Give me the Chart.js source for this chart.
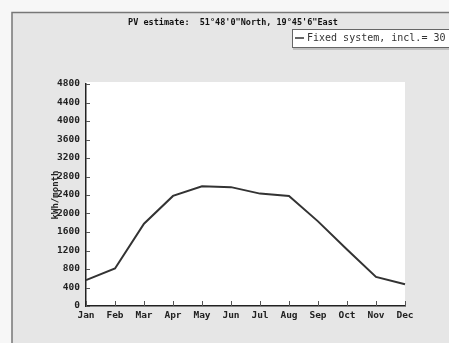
<!DOCTYPE html>
<html>
<head>
<meta charset="utf-8">
<script src="https://cdn.jsdelivr.net/npm/chart.js@4.4.0/dist/chart.umd.min.js"></script>
<style>
html,body{margin:0;padding:0;background:#fff;overflow:hidden;}
canvas{display:block;}
</style>
</head>
<body>
<canvas id="c" width="449" height="343"></canvas>
<script>
const months = ['Jan','Feb','Mar','Apr','May','Jun','Jul','Aug','Sep','Oct','Nov','Dec'];
const energy = [560, 810, 1780, 2380, 2590, 2570, 2430, 2380, 1830, 1220, 630, 470];
const yTicks = [0,400,800,1200,1600,2000,2400,2800,3200,3600,4000,4400,4800];
const titleText = 'PV estimate:  51°48\'0"North, 19°45\'6"East';
const legendText = 'Fixed system, incl.= 30';
const yTitle = 'kWh/month';

const frame = {
  id: 'frame',
  beforeDraw(chart) {
    const ctx = chart.ctx, W = chart.width, H = chart.height, a = chart.chartArea;
    ctx.save();
    ctx.fillStyle = '#f7f7f7';
    ctx.fillRect(0, 0, W, H);
    ctx.fillStyle = '#e6e6e6';
    ctx.fillRect(12, 12, W - 12, H - 12);
    ctx.strokeStyle = '#777';
    ctx.lineWidth = 1.5;
    ctx.beginPath();
    ctx.moveTo(12, H); ctx.lineTo(12, 12.5); ctx.lineTo(W, 12.5);
    ctx.stroke();
    ctx.fillStyle = '#ffffff';
    ctx.fillRect(a.left, a.top - 2, a.right - a.left, a.bottom - a.top + 2);
    // title
    ctx.fillStyle = '#111';
    ctx.font = 'bold 8.5px "DejaVu Sans Mono"';
    ctx.textAlign = 'center';
    ctx.textBaseline = 'middle';
    ctx.fillText(titleText, 233, 23);
    // legend box
    ctx.fillStyle = '#ffffff';
    ctx.fillRect(292, 29, 170, 18);
    ctx.strokeStyle = '#666';
    ctx.lineWidth = 1;
    ctx.strokeRect(292.5, 29.5, 170, 18);
    ctx.strokeStyle = '#999';
    ctx.beginPath(); ctx.moveTo(293, 49); ctx.lineTo(W, 49); ctx.stroke();
    ctx.strokeStyle = '#333';
    ctx.lineWidth = 1.5;
    ctx.beginPath(); ctx.moveTo(295, 38); ctx.lineTo(304, 38); ctx.stroke();
    ctx.fillStyle = '#333';
    ctx.font = '10px "DejaVu Sans Mono"';
    ctx.textAlign = 'left';
    ctx.fillText(legendText, 307, 38.5);
    ctx.restore();
  },
  afterDraw(chart) {
    const ctx = chart.ctx, a = chart.chartArea;
    const xs = chart.scales.x, ys = chart.scales.y;
    ctx.save();
    ctx.strokeStyle = '#555';
    ctx.lineWidth = 1;
    ctx.beginPath();
    xs.ticks.forEach((t, i) => {
      const x = Math.round(xs.getPixelForTick(i)) + 0.5;
      ctx.moveTo(x, a.bottom); ctx.lineTo(x, a.bottom - 5);
    });
    ys.ticks.forEach((t, i) => {
      const y = Math.round(ys.getPixelForTick(i)) + 0.5;
      ctx.moveTo(a.left, y); ctx.lineTo(a.left + 4, y);
    });
    ctx.stroke();
    ctx.restore();
  }
};

new Chart(document.getElementById('c'), {
  type: 'line',
  data: {
    labels: months,
    datasets: [{
      label: legendText,
      data: energy,
      borderColor: '#333',
      borderWidth: 2,
      pointRadius: 0,
      tension: 0,
      fill: false
    }]
  },
  options: {
    responsive: false,
    animation: false,
    devicePixelRatio: 1,
    layout: { padding: { left: 0, top: 84, right: 44, bottom: 0 } },
    plugins: { legend: { display: false }, title: { display: false }, tooltip: { enabled: false } },
    scales: {
      x: {
        offset: false,
        grid: { display: false, drawTicks: false },
        border: { display: true, color: '#222', width: 1.5 },
        ticks: { color: '#222', font: { family: 'DejaVu Sans Mono', size: 9.5, weight: 'bold' }, padding: 4, maxRotation: 0, autoSkip: false },
        afterFit(s) { s.height = 37; }
      },
      y: {
        min: 0, max: 4800,
        afterBuildTicks(s) { s.ticks = yTicks.map(v => ({ value: v })); },
        grid: { display: false, drawTicks: false },
        border: { display: true, color: '#222', width: 1.5 },
        ticks: { color: '#222', font: { family: 'DejaVu Sans Mono', size: 9.5, weight: 'bold' }, padding: 6, callback: v => String(v) },
        title: { display: true, text: yTitle, color: '#222', font: { family: 'DejaVu Sans Mono', size: 9, weight: 'bold' }, padding: { top: 50, bottom: 0 } },
        afterFit(s) { s.width = 86; }
      }
    }
  },
  plugins: [frame]
});
</script>
</body>
</html>
